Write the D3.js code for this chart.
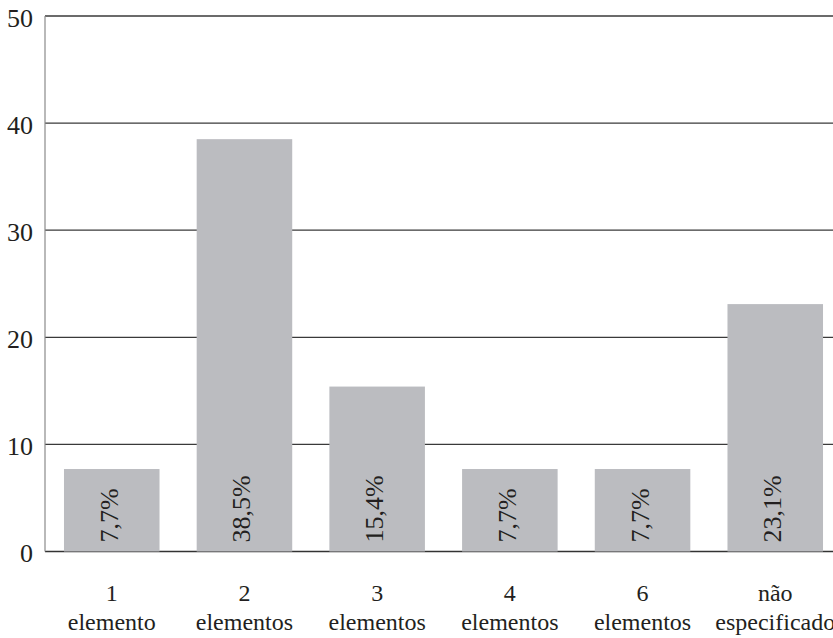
<!DOCTYPE html>
<html>
<head>
<meta charset="utf-8">
<script src="https://cdn.jsdelivr.net/npm/d3@7"></script>
<style>
  html, body { margin: 0; padding: 0; background: #fff; }
  svg { display: block; }
</style>
</head>
<body>
<script>
// Distribution of responses by number of elements (percent)
const categories = ["1|elemento", "2|elementos", "3|elementos", "4|elementos", "6|elementos", "não|especificado"];
const values = [7.7, 38.5, 15.4, 7.7, 7.7, 23.1];
const valueLabels = ["7,7%", "38,5%", "15,4%", "7,7%", "7,7%", "23,1%"];
const yTicks = [0, 10, 20, 30, 40, 50];

const width = 833, height = 638;
const plotLeft = 45, plotRight = 842, plotTop = 16, plotBottom = 551.5;
const fontFamily = "'Liberation Serif', 'Times New Roman', serif";
const ink = "#231f20";

const svg = d3.select("body").append("svg")
  .attr("width", width).attr("height", height)
  .attr("font-family", fontFamily);

const x = d3.scaleBand()
  .domain(categories)
  .range([plotLeft, plotRight])
  .paddingInner(0.28)
  .paddingOuter(0.143);

const y = d3.scaleLinear().domain([0, 50]).range([plotBottom, plotTop]);

// Horizontal grid lines
svg.append("g").selectAll("line")
  .data(yTicks)
  .join("line")
  .attr("x1", plotLeft).attr("x2", width)
  .attr("y1", d => y(d)).attr("y2", d => y(d))
  .attr("stroke", d => d === 0 ? "#333" : "#3a3a3a")
  .attr("stroke-width", d => d === 0 ? 1.6 : 1.3);

// Left axis line
svg.append("line")
  .attr("x1", plotLeft).attr("x2", plotLeft)
  .attr("y1", y(50)).attr("y2", y(0))
  .attr("stroke", "#8a8a8a").attr("stroke-width", 1.2);

// Y tick labels
svg.append("g").selectAll("text")
  .data(yTicks)
  .join("text")
  .attr("x", 33)
  .attr("y", d => y(d))
  .attr("dy", "0.42em")
  .attr("text-anchor", "end")
  .attr("font-size", 26)
  .attr("fill", ink)
  .text(d => d);

// Bars
svg.append("g").selectAll("rect")
  .data(values)
  .join("rect")
  .attr("x", (d, i) => x(categories[i]))
  .attr("width", x.bandwidth())
  .attr("y", d => y(d))
  .attr("height", d => y(0) - y(d))
  .attr("fill", "#bbbcc0");

// Value labels inside bars, rotated
svg.append("g").selectAll("text")
  .data(values)
  .join("text")
  .attr("transform", (d, i) => {
    const cx = x(categories[i]) + x.bandwidth() / 2;
    return `translate(${cx + 6},${y(0) - 9}) rotate(-90)`;
  })
  .attr("text-anchor", "start")
  .attr("font-size", 26)
  .attr("fill", ink)
  .text((d, i) => valueLabels[i]);

// Category labels (two lines)
const cat = svg.append("g").selectAll("text")
  .data(categories)
  .join("text")
  .attr("text-anchor", "middle")
  .attr("font-size", 24)
  .attr("fill", ink);
cat.append("tspan")
  .attr("x", d => x(d) + x.bandwidth() / 2)
  .attr("y", 601)
  .text(d => d.split("|")[0]);
cat.append("tspan")
  .attr("x", d => x(d) + x.bandwidth() / 2)
  .attr("y", 630)
  .text(d => d.split("|")[1]);
</script>
</body>
</html>
